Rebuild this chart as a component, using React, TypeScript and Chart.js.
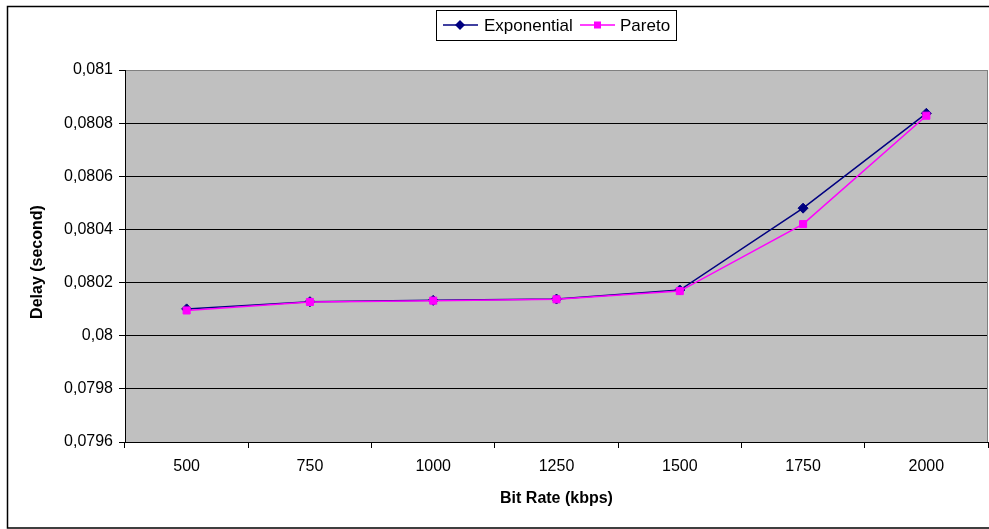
import React, { useEffect, useRef } from "react";
import { Chart, registerables } from "chart.js";

Chart.register(...registerables);

const CATEGORIES = ["500", "750", "1000", "1250", "1500", "1750", "2000"];
const EXPONENTIAL = [0.080101, 0.080128, 0.080133, 0.080138, 0.080172, 0.08048, 0.080837];
const PARETO = [0.080095, 0.080127, 0.080132, 0.080137, 0.080168, 0.08042, 0.080828];
const Y_TICKS = [0.0796, 0.0798, 0.08, 0.0802, 0.0804, 0.0806, 0.0808, 0.081];
const SERIES_NAMES = ["Exponential", "Pareto"];
const X_TITLE = "Bit Rate (kbps)";
const Y_TITLE = "Delay (second)";

const FONT = '"Liberation Sans", Arial, sans-serif';
const NAVY = "#000080";
const MAGENTA = "#FF00FF";

const fmt = (v: number) => String(Number(v.toFixed(4))).replace(".", ",");

const decorPlugin = {
  id: "decor",
  beforeDraw(chart: any) {
    const { ctx, chartArea } = chart;
    ctx.save();
    ctx.fillStyle = "#ffffff";
    ctx.fillRect(0, 0, chart.width, chart.height);
    ctx.fillStyle = "#C0C0C0";
    ctx.fillRect(chartArea.left, chartArea.top, chartArea.right - chartArea.left, chartArea.bottom - chartArea.top);
    ctx.restore();
  },
  afterDraw(chart: any) {
    const { ctx, chartArea } = chart;
    ctx.save();
    // right plot border
    ctx.strokeStyle = "#808080";
    ctx.lineWidth = 1;
    ctx.beginPath();
    ctx.moveTo(chartArea.right - 0.5, chartArea.top);
    ctx.lineTo(chartArea.right - 0.5, chartArea.bottom);
    ctx.stroke();
    // outer border
    ctx.strokeStyle = "#000";
    ctx.lineWidth = 1.5;
    ctx.beginPath();
    ctx.moveTo(chart.width + 5, 6.5);
    ctx.lineTo(7.5, 6.5);
    ctx.lineTo(7.5, 528);
    ctx.lineTo(chart.width + 5, 528);
    ctx.stroke();

    // axis titles
    ctx.fillStyle = "#000";
    ctx.font = "bold 16px " + FONT;
    ctx.textAlign = "center";
    ctx.textBaseline = "middle";
    ctx.fillText(X_TITLE, (chartArea.left + chartArea.right) / 2, 499);
    ctx.save();
    ctx.translate(38, 262);
    ctx.rotate(-Math.PI / 2);
    ctx.fillText(Y_TITLE, 0, 0);
    ctx.restore();

    // legend
    const bx = 436, by = 10, bw = 240, bh = 30;
    ctx.fillStyle = "#fff";
    ctx.fillRect(bx, by, bw, bh);
    ctx.strokeStyle = "#000";
    ctx.lineWidth = 1;
    ctx.strokeRect(bx + 0.5, by + 0.5, bw, bh);
    const cy = 25;
    // exponential
    ctx.strokeStyle = NAVY;
    ctx.lineWidth = 1.5;
    ctx.beginPath();
    ctx.moveTo(443, cy);
    ctx.lineTo(478, cy);
    ctx.stroke();
    ctx.fillStyle = NAVY;
    ctx.beginPath();
    ctx.moveTo(460, cy - 5);
    ctx.lineTo(465, cy);
    ctx.lineTo(460, cy + 5);
    ctx.lineTo(455, cy);
    ctx.closePath();
    ctx.fill();
    // pareto
    ctx.strokeStyle = MAGENTA;
    ctx.beginPath();
    ctx.moveTo(580, cy);
    ctx.lineTo(615, cy);
    ctx.stroke();
    ctx.fillStyle = MAGENTA;
    ctx.fillRect(594, cy - 3.5, 7, 7);
    ctx.fillStyle = "#000";
    ctx.font = "17px " + FONT;
    ctx.textAlign = "left";
    ctx.fillText(SERIES_NAMES[0], 484, cy + 1);
    ctx.fillText(SERIES_NAMES[1], 620, cy + 1);
    ctx.restore();
  },
};

export default function App() {
  const ref = useRef<HTMLCanvasElement>(null);
  useEffect(() => {
    if (!ref.current) return;
    const chart = new Chart(ref.current, {
      type: "line",
      data: {
        labels: CATEGORIES,
        datasets: [
          {
            label: SERIES_NAMES[0],
            data: EXPONENTIAL,
            borderColor: NAVY,
            backgroundColor: NAVY,
            borderWidth: 1.5,
            pointStyle: "rectRot",
            pointRadius: 5,
            pointBorderWidth: 1,
            pointBackgroundColor: NAVY,
            pointBorderColor: NAVY,
            tension: 0,
            order: 2,
          },
          {
            label: SERIES_NAMES[1],
            data: PARETO,
            borderColor: MAGENTA,
            backgroundColor: MAGENTA,
            borderWidth: 1.5,
            pointStyle: "rect",
            pointRadius: 5,
            pointBorderWidth: 1,
            pointBackgroundColor: MAGENTA,
            pointBorderColor: MAGENTA,
            tension: 0,
            order: 1,
          },
        ],
      },
      options: {
        responsive: false,
        animation: false,
        devicePixelRatio: 1,
        layout: { autoPadding: false, padding: { top: 70, right: 1, bottom: 0, left: 0 } },
        plugins: { legend: { display: false }, tooltip: { enabled: false } },
        scales: {
          x: {
            type: "category",
            offset: true,
            afterFit: (s: any) => {
              s.height = 87;
              s.paddingLeft = 0;
              s.paddingRight = 0;
            },
            grid: {
              offset: true,
              drawOnChartArea: false,
              drawTicks: true,
              tickLength: 6,
              tickColor: "#000",
            },
            border: { color: "#000", width: 1 },
            ticks: {
              color: "#000",
              font: { family: FONT, size: 16 },
              padding: 9,
              maxRotation: 0,
              autoSkip: false,
            },
          },
          y: {
            type: "linear",
            min: Y_TICKS[0],
            max: Y_TICKS[Y_TICKS.length - 1],
            afterFit: (s: any) => {
              s.width = 125;
              s.paddingTop = 0;
              s.paddingBottom = 0;
            },
            afterBuildTicks: (s: any) => {
              s.ticks = Y_TICKS.map((v) => ({ value: v }));
            },
            grid: {
              color: (c: any) =>
                c.tick && Math.abs(c.tick.value - Y_TICKS[Y_TICKS.length - 1]) < 1e-9 ? "#808080" : "#000",
              lineWidth: 1,
              tickLength: 6,
              tickColor: "#000",
            },
            border: { color: "#000", width: 1 },
            ticks: {
              color: "#000",
              font: { family: FONT, size: 16 },
              padding: 6,
              callback: (v: any) => fmt(Number(v)),
            },
          },
        },
      },
      plugins: [decorPlugin],
    });
    return () => chart.destroy();
  }, []);
  return (
    <div style={{ position: "absolute", left: 0, top: 0, width: 989, height: 529 }}>
      <canvas ref={ref} width={989} height={529} style={{ display: "block" }} />
    </div>
  );
}
